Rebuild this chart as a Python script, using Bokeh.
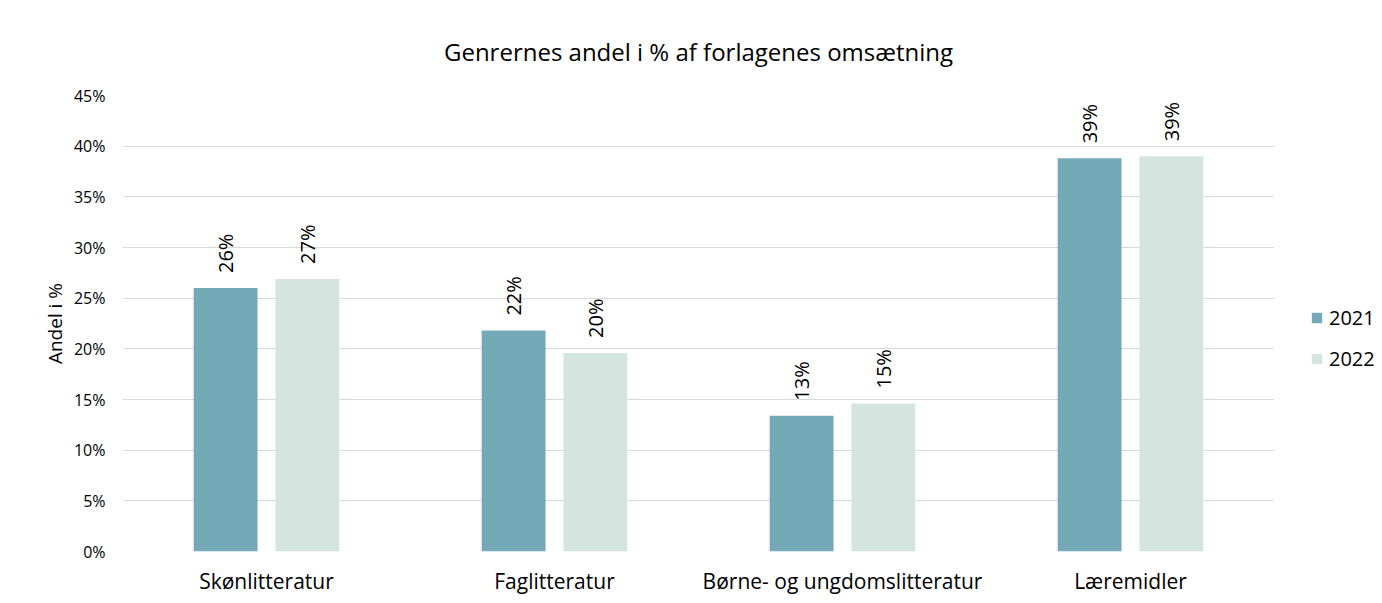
import math
from bokeh.plotting import figure
from bokeh.layouts import row
from bokeh.models import FactorRange, ColumnDataSource, FixedTicker, NumeralTickFormatter, Legend, LegendItem
from bokeh.transform import dodge
from bokeh.embed import file_html
from bokeh.resources import INLINE

categories = ["Skønlitteratur", "Faglitteratur", "Børne- og ungdomslitteratur", "Læremidler"]
values_2021 = [26.0, 21.8, 13.4, 38.8]
values_2022 = [26.9, 19.6, 14.6, 39.0]
series = ["2021", "2022"]
y_ticks = [0, 5, 10, 15, 20, 25, 30, 35, 40, 45]

FONT = "Open Sans"
C2021 = "#74aab8"
C2022 = "#d4e5df"
H = 600

src = ColumnDataSource(dict(
    cat=categories,
    v21=[v / 100 for v in values_2021],
    v22=[v / 100 for v in values_2022],
    l21=[f"{round(v)}%" for v in values_2021],
    l22=[f"{round(v)}%" for v in values_2022],
))

p = figure(x_range=FactorRange(*categories), y_range=(0, 0.45),
           width=1274, height=H, output_backend="svg", toolbar_location=None,
           min_border_left=122, min_border_right=0, min_border_top=95, min_border_bottom=H - 551,
           title="Genrernes andel i % af forlagenes omsætning")

p.vbar(x=dodge("cat", -0.142, range=p.x_range), top="v21", width=0.222, source=src,
       color=C2021, line_color=None)
p.vbar(x=dodge("cat", 0.142, range=p.x_range), top="v22", width=0.222, source=src,
       color=C2022, line_color=None)

for col, lab, dx in (("v21", "l21", -0.142), ("v22", "l22", 0.142)):
    p.text(x=dodge("cat", dx, range=p.x_range), y=col, text=lab, source=src,
           angle=math.pi / 2, text_align="left", text_baseline="middle",
           y_offset=-15, text_font_size="20px", text_color="#000000",
           text_font={"value": FONT})

p.title.align = "center"
p.title.text_font = FONT
p.title.text_font_size = "24px"
p.title.text_font_style = "normal"
p.title.text_color = "#000000"
p.title.standoff = 55

p.yaxis.ticker = FixedTicker(ticks=[t / 100 for t in y_ticks])
p.yaxis.formatter = NumeralTickFormatter(format="0%")
p.yaxis.axis_label = "Andel i %"
p.yaxis.axis_label_text_font = FONT
p.yaxis.axis_label_text_font_size = "19px"
p.yaxis.axis_label_text_font_style = "normal"
p.yaxis.axis_label_text_color = "#000000"
p.yaxis.axis_label_standoff = 3
p.yaxis.major_label_standoff = 11
p.yaxis.major_label_text_font_size = "16px"

p.xaxis.major_label_text_font_size = "21px"
p.xaxis.major_label_standoff = 9

for ax in (p.xaxis, p.yaxis):
    ax.axis_line_color = None
    ax.major_tick_line_color = None
    ax.minor_tick_line_color = None
    ax.major_label_text_font = FONT
    ax.major_label_text_color = "#000000"

p.xgrid.grid_line_color = None
p.ygrid.grid_line_color = "#d9d9d9"
p.outline_line_color = None

# legend panel (its marks lie outside its own visible range; only the legend shows)
lp = figure(width=100, height=H, output_backend="svg", toolbar_location=None,
            min_border=0, x_range=(0, 1), y_range=(0, 1))
lp.axis.visible = False
lp.grid.visible = False
lp.outline_line_color = None
hidden = ColumnDataSource(dict(x=[5], top=[5]))
g1 = lp.vbar(x="x", top="top", bottom=4, width=0.1, source=hidden, color=C2021, line_color=None)
g2 = lp.vbar(x="x", top="top", bottom=4, width=0.1, source=hidden, color=C2022, line_color=None)
legend = Legend(items=[LegendItem(label=series[0], renderers=[g1]),
                       LegendItem(label=series[1], renderers=[g2])],
                location=(36, 179), margin=0, padding=0,
                border_line_color=None, background_fill_alpha=0,
                label_text_font=FONT, label_text_font_size="20px", label_text_color="#000000",
                glyph_width=13, glyph_height=13, label_height=20,
                spacing=14, label_standoff=6)
lp.add_layout(legend, "center")

layout = row(p, lp, spacing=0)
open("out.html", "w").write(file_html(layout, INLINE))
